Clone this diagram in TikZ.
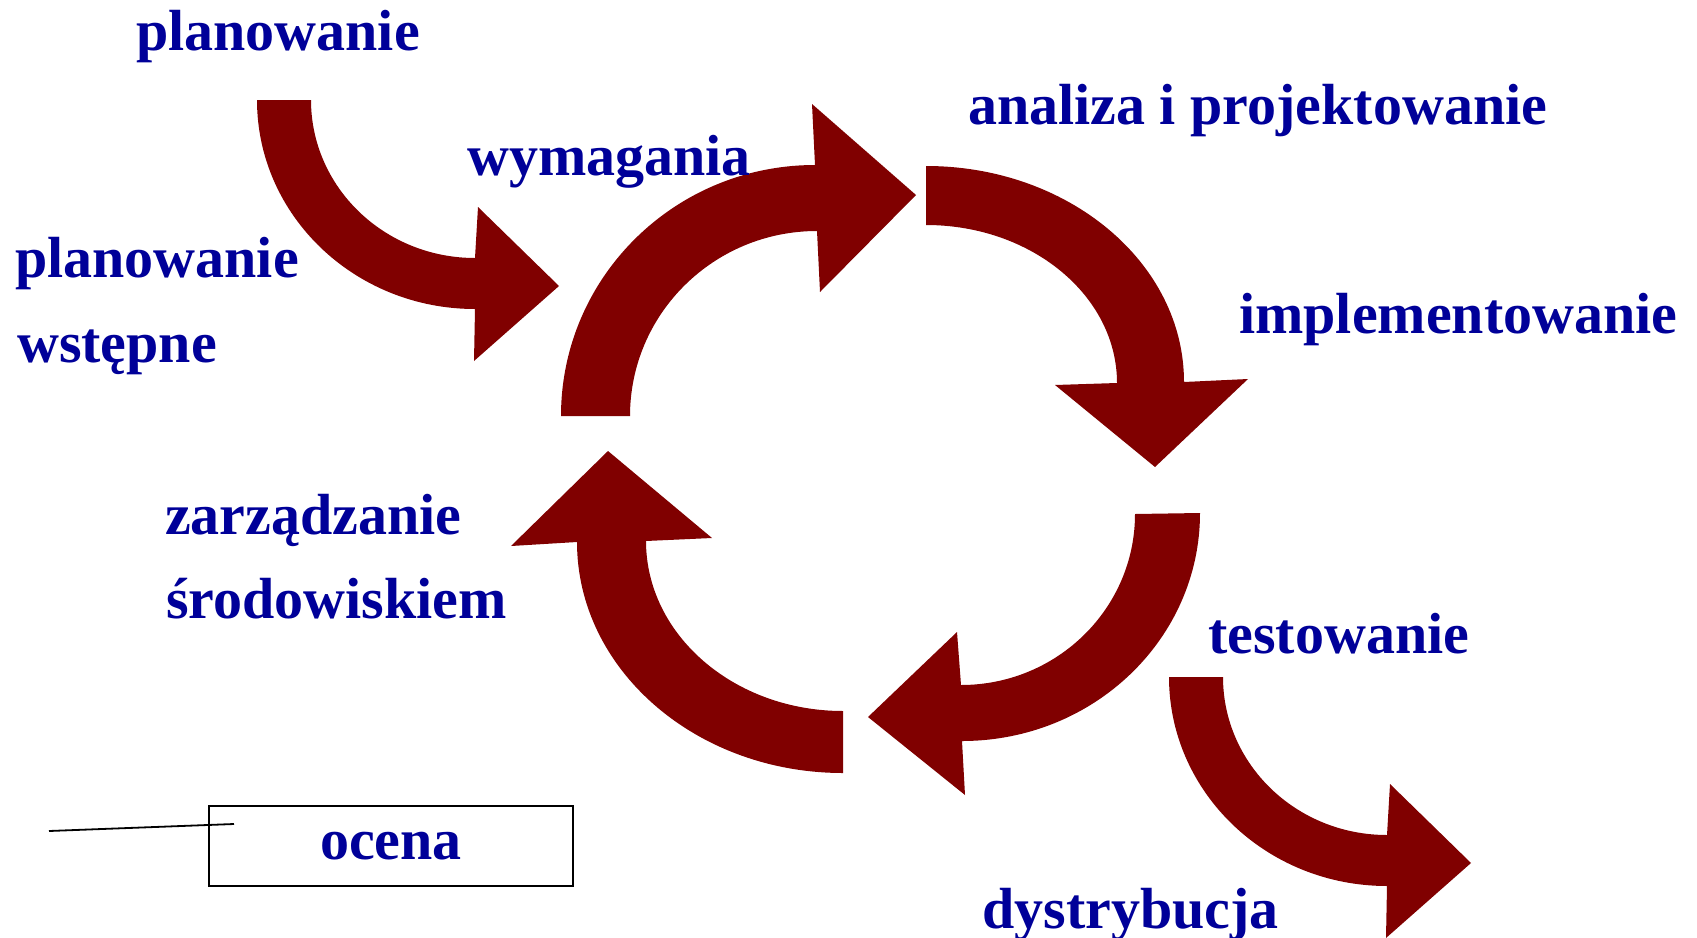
\documentclass[tikz,border=0pt]{standalone}
\usepackage{fontspec}
\setmainfont{Liberation Serif}
\definecolor{arrowred}{RGB}{128,0,0}
\definecolor{labelblue}{RGB}{0,0,153}
\begin{document}
\begin{tikzpicture}[x=1pt,y=1pt,
  bentarrow/.style={fill=arrowred, draw=none},
  lbl/.style={text=labelblue, font=\fontsize{58}{68}\selectfont\bfseries, inner sep=0pt, anchor=base west},
  frame/.style={draw=black, line width=1.8pt, minimum width=364pt, minimum height=80pt, inner sep=0pt,
    text=labelblue, font=\fontsize{58}{68}\selectfont\bfseries}]
\useasboundingbox (0,0) rectangle (1697,-937);

% entry and exit arrows (same shape, shifted)
\foreach \s in {(0,0),(912,-577)}
  \fill[bentarrow, shift={\s}] (257,-100)
    arc[start angle=180, end angle=270, x radius=218pt, y radius=209pt]
    -- (474,-361) -- (559,-286) -- (478,-207) -- (475,-258)
    arc[start angle=270, end angle=180, x radius=164pt, y radius=158pt] -- cycle;

% cycle: upper left
\fill[bentarrow] (561,-416)
  arc[start angle=180, end angle=90, x radius=254pt, y radius=251pt]
  -- (812,-104) -- (916,-195) -- (820,-292) -- (817,-231)
  arc[start angle=90, end angle=180, x radius=187pt, y radius=185pt] -- cycle;

% cycle: upper right
\fill[bentarrow] (926,-166)
  arc[start angle=90, end angle=0, x radius=258pt, y radius=216pt]
  -- (1248,-379) -- (1155,-467) -- (1055,-385) -- (1117,-383)
  arc[start angle=0, end angle=90, x radius=191pt, y radius=158pt] -- cycle;

% cycle: lower right
\fill[bentarrow] (1200,-513)
  arc[start angle=0, end angle=-90, x radius=238pt, y radius=228pt]
  -- (965,-795) -- (868,-717) -- (957,-632) -- (961,-685)
  arc[start angle=-90, end angle=0, x radius=174pt, y radius=171pt] -- cycle;

% cycle: lower left
\fill[bentarrow] (843,-773)
  arc[start angle=270, end angle=180, x radius=266pt, y radius=231pt]
  -- (511,-546) -- (608,-451) -- (712,-538) -- (646,-541)
  arc[start angle=180, end angle=270, x radius=197pt, y radius=170pt] -- cycle;

% labels
\node[lbl] (plan) at (136,-50) {planowanie};
\node[lbl] (planw1) at (15,-277) {planowanie};
\node[lbl] (planw2) at (17,-362) {wstępne};
\node[lbl] (wym) at (467,-175) {wymagania};
\node[lbl] (anal) at (968,-124) {analiza i projektowanie};
\node[lbl] (impl) at (1239,-333) {implementowanie};
\node[lbl] (zarz1) at (165,-534) {zarządzanie};
\node[lbl] (zarz2) at (166,-618) {środowiskiem};
\node[lbl] (test) at (1208,-653) {testowanie};
\node[lbl] (dystr) at (982,-928) {dystrybucja};

% evaluation box with its leader line
\node[frame] (ocena) at (391,-846) {ocena};
\coordinate (leadA) at (49,-831);
\coordinate (leadB) at (234,-824);
\draw[line width=1.8pt] (leadA) -- (leadB);
\end{tikzpicture}
\end{document}
